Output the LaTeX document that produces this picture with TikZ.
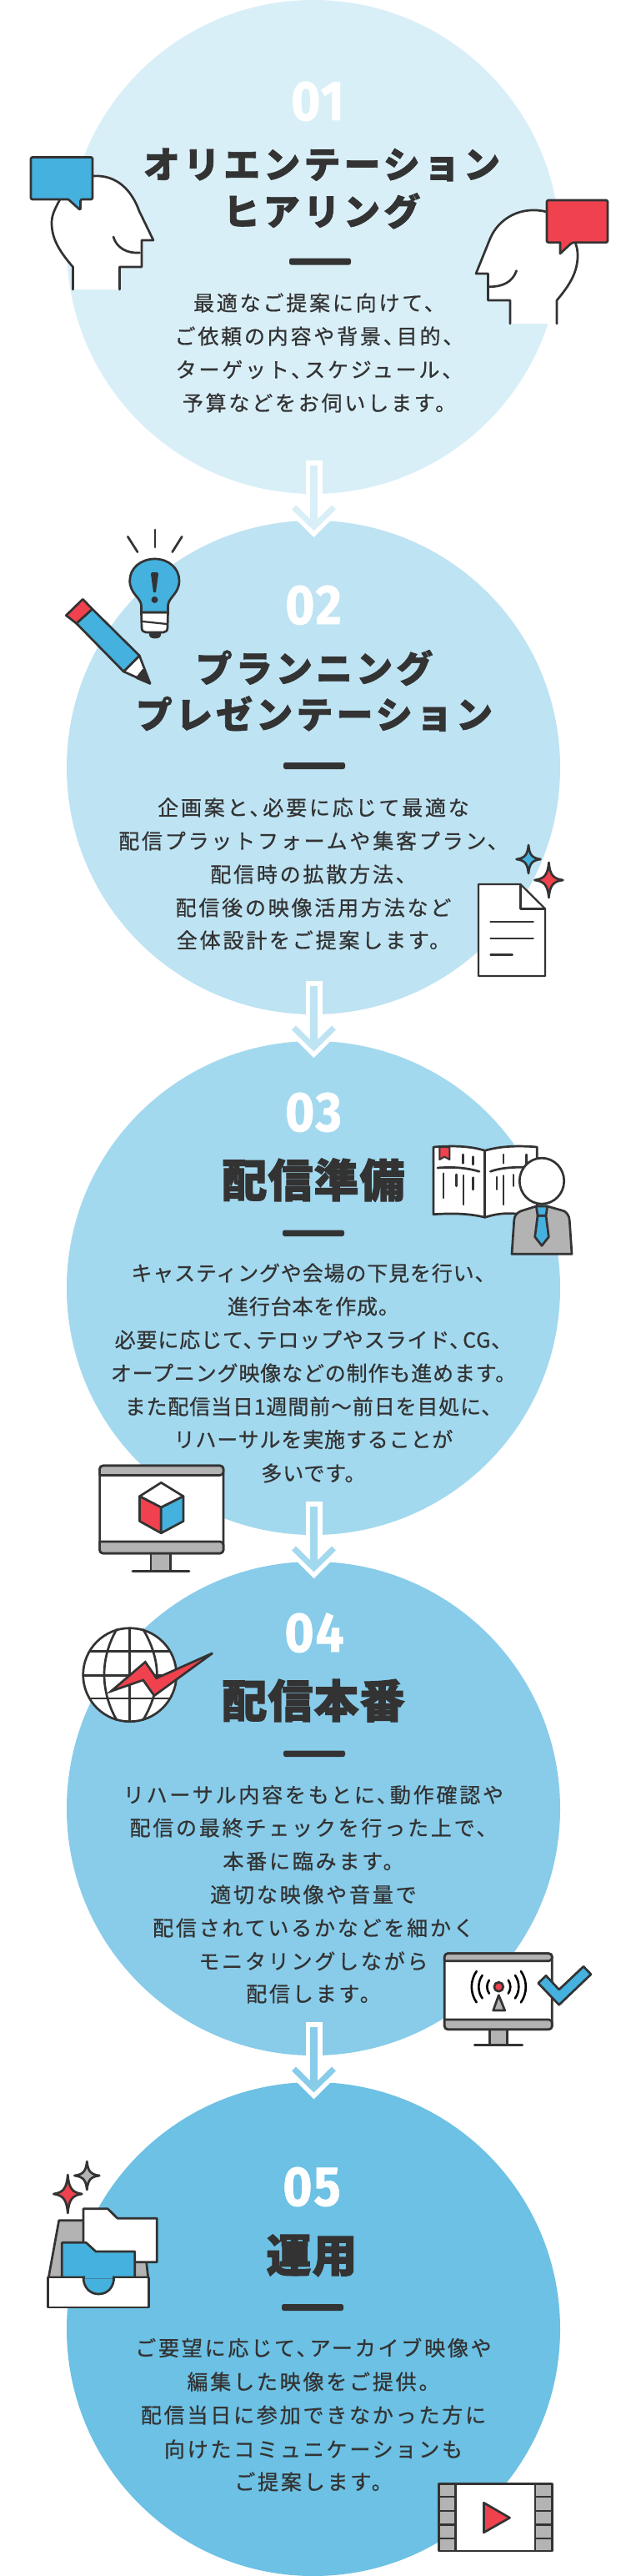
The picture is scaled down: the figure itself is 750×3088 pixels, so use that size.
\documentclass[tikz,border=0pt]{standalone}
\usepackage{fontspec}
\newfontfamily\bodyf[LetterSpace=11.2,FakeBold=0.7]{Noto Sans CJK JP}
\newfontfamily\bodyg[LetterSpace=3.4,FakeBold=0.7]{Noto Sans CJK JP}
\newfontfamily\titlef[LetterSpace=9.4,FakeBold=1.5]{Noto Sans CJK JP}
\newfontfamily\kanjif[LetterSpace=2,FakeBold=2.2]{Noto Sans CJK JP}
\newfontfamily\numf[LetterSpace=3,FakeBold=1]{Fira Sans}
\newcommand\cm{、\kern-9pt\relax}
\definecolor{cA}{HTML}{D9EFF8}
\definecolor{cB}{HTML}{BEE3F3}
\definecolor{cC}{HTML}{A3D9EF}
\definecolor{cD}{HTML}{88CCEA}
\definecolor{cE}{HTML}{6CC1E4}
\definecolor{ink}{HTML}{333333}
\definecolor{iblue}{HTML}{45B1DE}
\definecolor{ired}{HTML}{F0424E}
\definecolor{igray}{HTML}{B3B3B3}
\tikzset{
  x=1pt,y=-1pt,
  disc/.style={circle,minimum size=592pt,inner sep=0pt},
  bodytxt/.style={anchor=base,inner sep=0pt,text=ink,font=\fontsize{25}{25}\selectfont\bodyf},
  bodytight/.style={anchor=base,inner sep=0pt,text=ink,font=\fontsize{25}{25}\selectfont\bodyg},
  titletxt/.style={anchor=base,inner sep=0pt,text=ink,font=\fontsize{44}{44}\selectfont\titlef\bfseries},
  kanjitxt/.style={anchor=base,inner sep=0pt,text=ink,font=\fontsize{54}{54}\selectfont\kanjif\bfseries},
  numtxt/.style={anchor=base,inner sep=0pt,text=white,xscale=.9,transform shape,font=\fontsize{67}{67}\selectfont\numf\bfseries},
  ico/.style={draw=ink,line width=2.7pt,line join=round,line cap=round},
  thin ico/.style={draw=ink,line width=2.2pt,line join=round,line cap=round},
}
\newcommand\bodyline[4]{\node[bodytxt] (#1) at (#2,#3) {#4};}
\newcommand\tightline[4]{\node[bodytight] (#1) at (#2,#3) {#4};}
\newcommand\headbar[3]{\fill[ink,rounded corners=2.5pt] (#1-37,#2) rectangle (#1+37,#3);}
% centre x, centre y, half width, half height, colour
\newcommand\sparkle[5]{\path[ico,fill=#5] (#1,#2-#4) .. controls (#1+.08*#3,#2-.3*#4) and (#1+.3*#3,#2-.08*#4) .. (#1+#3,#2)
  .. controls (#1+.3*#3,#2+.08*#4) and (#1+.08*#3,#2+.3*#4) .. (#1,#2+#4)
  .. controls (#1-.08*#3,#2+.3*#4) and (#1-.3*#3,#2+.08*#4) .. (#1-#3,#2)
  .. controls (#1-.3*#3,#2-.08*#4) and (#1-.08*#3,#2-.3*#4) .. cycle;}
\newcommand\flowarrow[3]{%
  \draw[white,line width=20pt] (#1) -- ($(#2)+(0,-20)$);
  \draw[white,line width=18pt,line join=miter,miter limit=10] ($(#2)+(-27.5,-41)$) -- ($(#2)+(0,-13.5)$) -- ($(#2)+(27.5,-41)$);
  \draw[#3,line width=9.5pt] ($(#1)+(0,6)$) -- ($(#2)+(0,-13.5)$);
  \draw[#3,line width=7pt,line join=miter,miter limit=10] ($(#2)+(-24,-37)$) -- ($(#2)+(0,-13.5)$) -- ($(#2)+(24,-37)$);
}
\usetikzlibrary{calc}
\begin{document}
\begin{tikzpicture}
\useasboundingbox (0,0) rectangle (750,3088);
\fill[white] (0,0) rectangle (750,3088);

% discs
\node[disc,fill=cA] (c1) at (376,296) {};
\node[disc,fill=cB] (c2) at (376,920) {};
\node[disc,fill=cC] (c3) at (376,1544) {};
\node[disc,fill=cD] (c4) at (376,2168) {};
\node[disc,fill=cE] (c5) at (376,2792) {};

% arrows
\coordinate (a1s) at (376.5,552);  \coordinate (a1e) at (376.5,645);
\coordinate (a2s) at (376.5,1176); \coordinate (a2e) at (376.5,1269);
\coordinate (a3s) at (376.5,1800); \coordinate (a3e) at (376.5,1893);
\coordinate (a4s) at (376.5,2424); \coordinate (a4e) at (376.5,2517);
\flowarrow{a1s}{a1e}{cA}
\flowarrow{a2s}{a2e}{cB}
\flowarrow{a3s}{a3e}{cC}
\flowarrow{a4s}{a4e}{cD}

% step 1
\node[numtxt] (n1) at (381,144) {01};
\node[titletxt] (t1a) at (386,213.5) {オリエンテーション};
\node[titletxt] (t1b) at (386,270) {ヒアリング};
\headbar{384}{309.5}{317.5}
\bodyline{b1a}{383}{372.5}{最適なご提案に向けて、}
\bodyline{b1b}{383}{412.5}{ご依頼の内容や背景\cm 目的、}
\bodyline{b1c}{383}{452.5}{ターゲット\cm スケジュール、}
\bodyline{b1d}{383}{492.5}{予算などをお伺いします。}

% step 2
\node[numtxt] (n2) at (376,748) {02};
\node[titletxt] (t2a) at (377,817.7) {プランニング};
\node[titletxt] (t2b) at (377,873) {プレゼンテーション};
\headbar{377}{914}{922}
\bodyline{b2a}{376}{977.5}{企画案と\cm 必要に応じて最適な}
\bodyline{b2b}{376}{1017.5}{配信プラットフォームや集客プラン、}
\bodyline{b2c}{376}{1057.5}{配信時の拡散方法、}
\bodyline{b2d}{376}{1097.5}{配信後の映像活用方法など}
\bodyline{b2e}{376}{1136.5}{全体設計をご提案します。}

% step 3
\node[numtxt] (n3) at (376,1356) {03};
\node[kanjitxt] (t3a) at (376,1435) {配信準備};
\headbar{376}{1474.5}{1482}
\tightline{b3a}{376}{1535.5}{キャスティングや会場の下見を行い、}
\tightline{b3b}{376}{1575.5}{進行台本を作成。}
\tightline{b3c}{376}{1615.5}{必要に応じて\cm テロップやスライド\cm CG、}
\tightline{b3d}{376}{1655.5}{オープニング映像などの制作も進めます。}
\tightline{b3e}{376}{1695.5}{また配信当日1週間前～前日を目処に、}
\tightline{b3f}{376}{1735}{リハーサルを実施することが}
\tightline{b3g}{376}{1775.5}{多いです。}

% step 4
\node[numtxt] (n4) at (377,1980) {04};
\node[kanjitxt] (t4a) at (376,2059) {配信本番};
\headbar{377}{2098.5}{2106}
\bodyline{b4a}{376}{2161}{リハーサル内容をもとに\cm 動作確認や}
\bodyline{b4b}{376}{2200.5}{配信の最終チェックを行った上で、}
\bodyline{b4c}{376}{2240.5}{本番に臨みます。}
\bodyline{b4d}{376}{2280.5}{適切な映像や音量で}
\bodyline{b4e}{376}{2320.5}{配信されているかなどを細かく}
\bodyline{b4f}{376}{2360.5}{モニタリングしながら}
\bodyline{b4g}{376}{2399.5}{配信します。}

% step 5
\node[numtxt] (n5) at (374,2644) {05};
\node[kanjitxt] (t5a) at (374,2723.5) {運用};
\headbar{375}{2762}{2770}
\bodyline{b5a}{376}{2824}{ご要望に応じて\cm アーカイブ映像や}
\bodyline{b5b}{376}{2864.5}{編集した映像をご提供。}
\bodyline{b5c}{376}{2904.5}{配信当日に参加できなかった方に}
\bodyline{b5d}{376}{2945.5}{向けたコミュニケーションも}
\bodyline{b5e}{376}{2984.5}{ご提案します。}

% ---- left head
\fill[white] (111,211) .. controls (140,209) and (158,228) .. (167,253) -- (184,288) -- (170,288) -- (170,320) -- (143.5,320) -- (143.5,347) -- (87.5,347) -- (87.5,320) .. controls (70,300) and (62,285) .. (62,267) .. controls (62,258) and (66,250) .. (72,239) -- cycle;
\draw[ico] (111,211) .. controls (140,209) and (158,228) .. (167,253) -- (184,288) -- (170,288) -- (170,320) -- (143.5,320) -- (143.5,347);
\draw[ico] (87.5,347) -- (87.5,320) .. controls (70,300) and (62,285) .. (62,267) .. controls (62,258) and (66,250) .. (72,239);
\draw[ico] (136,284) .. controls (140,297) and (152,304) .. (167.5,303);
\path[ico,fill=iblue,rounded corners=2pt] (37,188.5) -- (111,188.5) -- (111,239) -- (96.5,239) -- (96.5,252) [sharp corners] -- (82,239) [rounded corners=2pt] -- (37,239) -- cycle;

% ---- right head
\fill[white] (656,254) .. controls (625,246) and (598,262) .. (588,286) -- (571,328) -- (585.5,328) -- (585.5,360) -- (612,360) -- (612,388) -- (668,388) -- (668,360) .. controls (685,340) and (693,325) .. (693,306) .. controls (693,300) and (692,295) .. (689,288) -- cycle;
\draw[ico] (656,254) .. controls (625,246) and (598,262) .. (588,286) -- (571,328) -- (585.5,328) -- (585.5,360) -- (612,360) -- (612,388);
\draw[ico] (668,388) -- (668,360) .. controls (685,340) and (693,325) .. (693,306) .. controls (693,300) and (692,295) .. (689,288);
\draw[ico] (619.6,324.5) .. controls (615,338) and (603,344) .. (586.5,343.7);
\path[ico,fill=ired,rounded corners=2pt] (656,240) -- (729,240) -- (729,290.6) -- (686.5,290.6) [sharp corners] -- (672,304) -- (672,290.6) [rounded corners=2pt] -- (656,290.6) -- cycle;

% ---- bulb
\draw[ico] (186,635) -- (186,656);
\draw[ico] (153.3,643.3) -- (165,661.7);
\draw[ico] (218.3,643.3) -- (206.7,661.7);
\path[ico,fill=white] (169.5,734) -- (170,752) .. controls (170,756) and (172,758) .. (175,758) -- (196,758) .. controls (199,758) and (201,756) .. (201,752) -- (201.5,734) -- cycle;
\path[ico,fill=ink] (180,759) -- (192,759) .. controls (192,763) and (190,764) .. (186,764) .. controls (182,764) and (180,763) .. (180,759) -- cycle;
\draw[thin ico] (171,745) -- (200,748);
\path[ico,fill=iblue] (169.5,734) -- (169.5,726) .. controls (169,716) and (155.7,712) .. (155.7,696) .. controls (155.7,681) and (169,670) .. (185.7,670) .. controls (202,670) and (215,681) .. (215,696) .. controls (215,712) and (202,716) .. (201.5,726) -- (201.5,734) -- cycle;
\fill[ink] (181,688) .. controls (181,686.5) and (182,686) .. (185.3,686) .. controls (189,686) and (190,686.5) .. (190,688) -- (187,710) -- (184,710) -- cycle;
\fill[ink] (185.5,719) circle[radius=4];

% ---- pencil
\path[ico,fill=white] (148.3,805) -- (167.3,786) -- (180,819.3) -- cycle;
\path[ico,fill=ink] (164.3,812.7) -- (171.7,803.3) -- (180,819.3) -- cycle;
\path[ico,fill=iblue] (91.7,747.3) -- (110.7,730) -- (167.3,786) -- (148.3,805) -- cycle;
\path[ico,fill=ired] (79.3,737.7) -- (99.3,718.3) -- (110.7,730) -- (91.7,747.3) -- cycle;

% ---- document
\path[thin ico,fill=white] (574,1060) -- (624.4,1060) -- (654,1089.4) -- (654,1170) -- (574,1170) -- cycle;
\draw[thin ico] (624.4,1060) -- (624.4,1089.4) -- (654,1089.4);
\draw[thin ico] (588.5,1105) -- (639.7,1105);
\draw[thin ico] (588.5,1125) -- (639.7,1125);
\draw[thin ico] (588.5,1144.5) -- (614.8,1144.5);
\sparkle{634}{1030}{14.5}{17}{iblue}
\sparkle{658.4}{1055}{17}{21}{ired}

% ---- book
\path[ico,fill=white] (520,1375) .. controls (545,1373) and (565,1374) .. (581.7,1379.3) .. controls (600,1374) and (620,1373) .. (644.3,1375) -- (644.3,1455) -- (620,1455) .. controls (605,1454) and (595,1455) .. (581.7,1459.3) .. controls (565,1455) and (545,1454) .. (520,1455.7) -- cycle;
\draw[ico] (581.7,1379.3) -- (581.7,1459.3);
\path[draw=ink,line width=2pt,fill=ired,line join=round] (527.3,1375) -- (539.3,1375) -- (539.3,1390) -- (533.3,1386.7) -- (527.3,1390) -- cycle;
\draw[ico] (525,1400) .. controls (545,1398.5) and (560,1400) .. (575,1404.3);
\draw[ico] (588.3,1404.3) .. controls (600,1400) and (615,1399) .. (630,1399.3);
\draw[ico] (532,1406.7) -- (532,1436);
\draw[ico] (547.7,1408) -- (547.7,1421.7);
\draw[ico] (556,1409) -- (556,1444);
\draw[ico] (567.7,1411.7) -- (567.7,1426);
\draw[ico] (555.7,1384) -- (555.7,1394.3);
\draw[ico] (567.7,1386.7) -- (567.7,1396);
\draw[ico] (604,1384) -- (604,1394.3);
\draw[ico] (631.7,1384) -- (631.7,1394.3);
\draw[ico] (596,1411) -- (596,1425.7);
\draw[ico] (604,1409.3) -- (604,1444);
\draw[ico] (616,1408.3) -- (616,1421.7);
% person
\path[ico,fill=igray] (614,1503.3) -- (616.7,1463.3) .. controls (617,1457) and (620,1454) .. (625,1451.7) -- (643.3,1446) -- (656.7,1446) -- (676.7,1451.7) .. controls (680,1454) and (683,1457) .. (683.3,1463.3) -- (686,1503.3) -- cycle;
\path[ico,fill=iblue] (645,1457.3) -- (641.7,1482.7) -- (650,1493.3) -- (658.3,1482.7) -- (655,1457.3) -- cycle;
\path[ico,fill=iblue] (643.3,1446) -- (656.7,1446) -- (655,1457.3) -- (645,1457.3) -- cycle;
\path[ico,fill=white] (650,1415.7) ellipse[x radius=26.7,y radius=27.5];

% ---- monitor with cube
\path[ico,fill=igray] (181,1862) rectangle (204.8,1883.5);
\draw[ico] (159,1883.5) -- (227,1883.5);
\path[ico,fill=white,rounded corners=4pt] (119.6,1757) rectangle (268,1862);
\path[ico,fill=igray,rounded corners=4pt] (119.6,1768.4) -- (119.6,1757) -- (268,1757) -- (268,1768.4) [sharp corners] -- cycle;
\path[ico,fill=igray,rounded corners=4pt] (119.6,1848) -- (119.6,1862) -- (268,1862) -- (268,1848) [sharp corners] -- cycle;
\path[ico,fill=white] (193.3,1777.3) -- (220,1793.7) -- (193.3,1807) -- (167.5,1793.7) -- cycle;
\path[ico,fill=ired] (167.5,1793.7) -- (193.3,1807) -- (193.3,1837.8) -- (167.5,1823.5) -- cycle;
\path[ico,fill=iblue] (220,1793.7) -- (193.3,1807) -- (193.3,1837.8) -- (220,1823.5) -- cycle;

% ---- globe
\path[ico,fill=white] (155.7,2007.7) circle[radius=56];
\draw[ico] (140,1953.3) .. controls (130,1970) and (125,1990) .. (125,2007) .. controls (125,2025) and (130,2045) .. (140,2061.7);
\draw[ico] (171.7,1953.3) .. controls (182,1970) and (188.3,1990) .. (188.3,2007) .. controls (188.3,2025) and (182,2045) .. (171.7,2061.7);
\draw[ico] (155.7,1952) -- (155.7,2063.5);
\draw[ico] (107.7,1979.3) -- (203.7,1979.3);
\draw[ico] (100,2008.3) -- (211.5,2008.3);
\draw[ico] (107.7,2036) -- (203.7,2036);
\path[ico,fill=ired,line join=miter,miter limit=6] (133.3,2027.3) -- (174.3,1992.3) -- (187.7,2011.7) -- (255,1981.7) -- (185,2032.7) -- (171.7,2014) -- cycle;

% ---- monitor with antenna
\path[ico,fill=igray] (587.7,2432.7) rectangle (608.3,2451.7);
\draw[ico] (569.3,2451.7) -- (626.7,2451.7);
\path[ico,fill=white,rounded corners=4pt] (533.3,2341.7) rectangle (662.3,2432.7);
\path[ico,fill=igray,rounded corners=4pt] (533.3,2350.7) -- (533.3,2341.7) -- (662.3,2341.7) -- (662.3,2350.7) [sharp corners] -- cycle;
\path[ico,fill=igray,rounded corners=4pt] (533.3,2421) -- (533.3,2432.7) -- (662.3,2432.7) -- (662.3,2421) [sharp corners] -- cycle;
\foreach \r in {14,24,32.5}{
  \draw[line width=2.6pt,line cap=round,black] (598.3+.819*\r,2381.7-.574*\r) .. controls (598.3+1.06*\r,2381.7-.23*\r) and (598.3+1.06*\r,2381.7+.23*\r) .. (598.3+.819*\r,2381.7+.574*\r);
  \draw[line width=2.6pt,line cap=round,black] (598.3-.819*\r,2381.7-.574*\r) .. controls (598.3-1.06*\r,2381.7-.23*\r) and (598.3-1.06*\r,2381.7+.23*\r) .. (598.3-.819*\r,2381.7+.574*\r);
}
\path[ico,fill=ired] (598.3,2381.7) circle[radius=5.5];
\path[ico,fill=igray] (598.3,2391.7) -- (591.7,2410) -- (605.7,2410) -- cycle;
\path[ico,fill=iblue] (645.7,2377.3) -- (655,2368.3) -- (670.7,2385) -- (700,2357.3) -- (709,2366.7) -- (670.7,2403.3) -- cycle;

% ---- folders
\path[ico,fill=igray] (58.3,2730) -- (70.7,2661.7) -- (170,2661.7) -- (177.7,2730) -- cycle;
\path[ico,fill=white] (100,2647.7) -- (129.3,2647.7) -- (141,2659.3) -- (188.3,2659.3) -- (188.3,2711.7) -- (100,2711.7) -- cycle;
\path[ico,fill=iblue] (74.3,2730) -- (74.3,2688.3) -- (103.3,2688.3) -- (115,2699) -- (161.7,2699) -- (161.7,2730) -- cycle;
\path[ico,fill=white] (57.7,2730) -- (178.3,2730) -- (178.3,2766) -- (57.7,2766) -- cycle;
\path[ico,fill=iblue] (100,2730) .. controls (100,2742) and (108,2750) .. (118.3,2750) .. controls (129,2750) and (136.7,2742) .. (136.7,2730) -- cycle;
\fill[iblue] (101.5,2727) rectangle (135.2,2731);
\sparkle{81.3}{2630}{17}{23}{ired}
\sparkle{104.3}{2608}{15}{17}{igray}

% ---- film
\path[ico,fill=igray] (526.3,2977.4) rectangle (662.7,3058);
\path[ico,fill=white] (546.4,2977.4) rectangle (642,3058);
\foreach \yy in {2993,3010,3026.8,3043}{
  \draw[ico] (526.3,\yy) -- (546.4,\yy);
  \draw[ico] (642,\yy) -- (662.7,\yy);
}
\path[ico,fill=ired] (580.4,3000.2) -- (611.5,3018.2) -- (580.4,3035.8) -- cycle;
\end{tikzpicture}
\end{document}
